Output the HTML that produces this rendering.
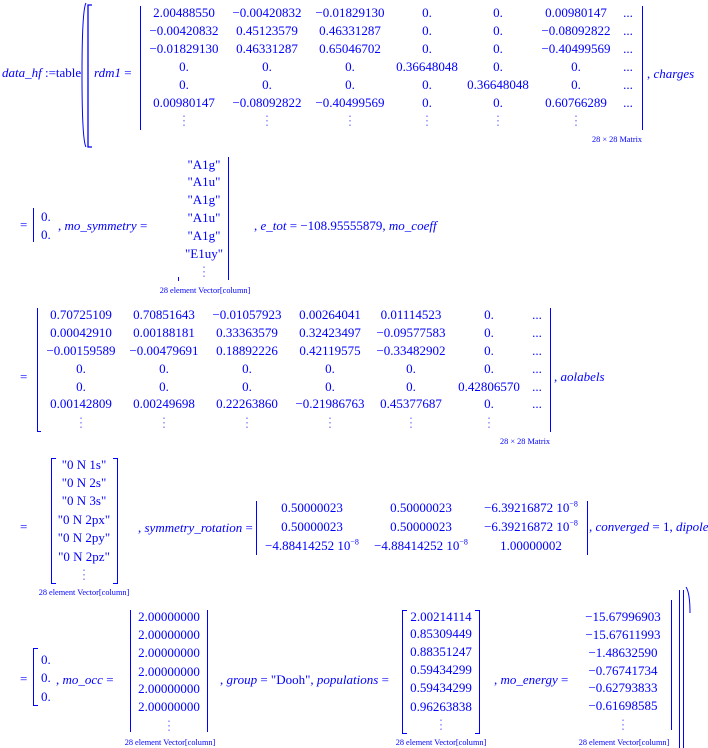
<!DOCTYPE html>
<html><head><meta charset="utf-8"><style>
html,body{margin:0;padding:0;background:#fff;}
body{width:708px;height:748px;position:relative;overflow:hidden;font-family:"Liberation Serif",serif;font-size:13px;color:#0000ff;}
.t{position:absolute;white-space:nowrap;line-height:16px;}
.c{transform:translateX(-50%);}
i{font-style:italic;}
.s{font-size:8.3px;line-height:10px;}
.d{color:#8080ff;}
.v{position:absolute;border-left:1.3px solid #0000ff;}
.bl{position:absolute;border:1.3px solid #0000ff;border-right:none;width:4px;}
.br{position:absolute;border:1.3px solid #0000ff;border-left:none;width:4px;}
sup{font-size:8px;line-height:0;}
</style></head><body>

<!-- Section 1 -->
<div class="t" style="left:2px;top:65px"><i>data_hf</i> :=table</div>
<svg style="position:absolute;left:78px;top:0" width="16" height="150"><path d="M8,3 Q4,10 4,75 Q4,140 8,147" fill="none" stroke="#0000ff" stroke-width="1"/><path d="M14,5 L10,5 L10,147 L14,147" fill="none" stroke="#0000ff" stroke-width="1.3"/></svg>
<div class="t" style="left:94px;top:65px"><i>rdm1</i> =</div>
<div class="v" style="left:140px;top:6px;height:124px"></div>
<div class="v" style="left:642px;top:6px;height:124px"></div>
<div class="t" style="left:647px;top:66px">, <i>charges</i></div>
<div class="t s c" style="left:617px;top:135px">28 × 28 Matrix</div>

<div class="t c" style="left:184px;top:5px">2.00488550</div><div class="t c" style="left:267px;top:5px">−0.00420832</div><div class="t c" style="left:350px;top:5px">−0.01829130</div><div class="t c" style="left:427px;top:5px">0.</div><div class="t c" style="left:498px;top:5px">0.</div><div class="t c" style="left:576px;top:5px">0.00980147</div><div class="t c" style="left:628px;top:5px">...</div>
<div class="t c" style="left:184px;top:23px">−0.00420832</div><div class="t c" style="left:267px;top:23px">0.45123579</div><div class="t c" style="left:350px;top:23px">0.46331287</div><div class="t c" style="left:427px;top:23px">0.</div><div class="t c" style="left:498px;top:23px">0.</div><div class="t c" style="left:576px;top:23px">−0.08092822</div><div class="t c" style="left:628px;top:23px">...</div>
<div class="t c" style="left:184px;top:41px">−0.01829130</div><div class="t c" style="left:267px;top:41px">0.46331287</div><div class="t c" style="left:350px;top:41px">0.65046702</div><div class="t c" style="left:427px;top:41px">0.</div><div class="t c" style="left:498px;top:41px">0.</div><div class="t c" style="left:576px;top:41px">−0.40499569</div><div class="t c" style="left:628px;top:41px">...</div>
<div class="t c" style="left:184px;top:59px">0.</div><div class="t c" style="left:267px;top:59px">0.</div><div class="t c" style="left:350px;top:59px">0.</div><div class="t c" style="left:427px;top:59px">0.36648048</div><div class="t c" style="left:498px;top:59px">0.</div><div class="t c" style="left:576px;top:59px">0.</div><div class="t c" style="left:628px;top:59px">...</div>
<div class="t c" style="left:184px;top:77px">0.</div><div class="t c" style="left:267px;top:77px">0.</div><div class="t c" style="left:350px;top:77px">0.</div><div class="t c" style="left:427px;top:77px">0.</div><div class="t c" style="left:498px;top:77px">0.36648048</div><div class="t c" style="left:576px;top:77px">0.</div><div class="t c" style="left:628px;top:77px">...</div>
<div class="t c" style="left:184px;top:95px">0.00980147</div><div class="t c" style="left:267px;top:95px">−0.08092822</div><div class="t c" style="left:350px;top:95px">−0.40499569</div><div class="t c" style="left:427px;top:95px">0.</div><div class="t c" style="left:498px;top:95px">0.</div><div class="t c" style="left:576px;top:95px">0.60766289</div><div class="t c" style="left:628px;top:95px">...</div>
<div class="t c d" style="left:184px;top:113px">⋮</div><div class="t c d" style="left:267px;top:113px">⋮</div><div class="t c d" style="left:350px;top:113px">⋮</div><div class="t c d" style="left:427px;top:113px">⋮</div><div class="t c d" style="left:498px;top:113px">⋮</div><div class="t c d" style="left:576px;top:113px">⋮</div>

<!-- Section 2 -->
<div class="t" style="left:20px;top:217px">=</div>
<div class="v" style="left:33px;top:208px;height:34px"></div>
<div class="t" style="left:41px;top:209px">0.</div>
<div class="t" style="left:41px;top:227px">0.</div>
<div class="t" style="left:58px;top:218px">, <i>mo_symmetry</i> =</div>
<div class="t c" style="left:204px;top:157px">"A1g"</div>
<div class="t c" style="left:204px;top:174px">"A1u"</div>
<div class="t c" style="left:204px;top:192px">"A1g"</div>
<div class="t c" style="left:204px;top:210px">"A1u"</div>
<div class="t c" style="left:204px;top:228px">"A1g"</div>
<div class="t c" style="left:204px;top:246px">"E1uy"</div>
<div class="t c d" style="left:204px;top:264px">⋮</div>
<div class="v" style="left:178px;top:277px;height:4px"></div>
<div class="v" style="left:228px;top:157px;height:123px"></div>
<div class="t s c" style="left:205px;top:286px">28 element Vector[column]</div>
<div class="t" style="left:254px;top:218px">, <i>e_tot</i> = −108.95555879, <i>mo_coeff</i></div>

<!-- Section 3 -->
<div class="t" style="left:20px;top:369px">=</div>
<div class="v" style="left:37px;top:308px;height:124px"></div>
<div class="v" style="left:37px;top:431px;width:3px;border-bottom:1.2px solid #0000ff;height:0"></div>
<div class="v" style="left:550px;top:308px;height:124px"></div>
<div class="t" style="left:554px;top:369px">, <i>aolabels</i></div>
<div class="t s c" style="left:525px;top:437px">28 × 28 Matrix</div>

<div class="t c" style="left:81px;top:307px">0.70725109</div><div class="t c" style="left:164px;top:307px">0.70851643</div><div class="t c" style="left:247px;top:307px">−0.01057923</div><div class="t c" style="left:330px;top:307px">0.00264041</div><div class="t c" style="left:411px;top:307px">0.01114523</div><div class="t c" style="left:489px;top:307px">0.</div><div class="t c" style="left:537px;top:307px">...</div>
<div class="t c" style="left:81px;top:325px">0.00042910</div><div class="t c" style="left:164px;top:325px">0.00188181</div><div class="t c" style="left:247px;top:325px">0.33363579</div><div class="t c" style="left:330px;top:325px">0.32423497</div><div class="t c" style="left:411px;top:325px">−0.09577583</div><div class="t c" style="left:489px;top:325px">0.</div><div class="t c" style="left:537px;top:325px">...</div>
<div class="t c" style="left:81px;top:343px">−0.00159589</div><div class="t c" style="left:164px;top:343px">−0.00479691</div><div class="t c" style="left:247px;top:343px">0.18892226</div><div class="t c" style="left:330px;top:343px">0.42119575</div><div class="t c" style="left:411px;top:343px">−0.33482902</div><div class="t c" style="left:489px;top:343px">0.</div><div class="t c" style="left:537px;top:343px">...</div>
<div class="t c" style="left:81px;top:361px">0.</div><div class="t c" style="left:164px;top:361px">0.</div><div class="t c" style="left:247px;top:361px">0.</div><div class="t c" style="left:330px;top:361px">0.</div><div class="t c" style="left:411px;top:361px">0.</div><div class="t c" style="left:489px;top:361px">0.</div><div class="t c" style="left:537px;top:361px">...</div>
<div class="t c" style="left:81px;top:379px">0.</div><div class="t c" style="left:164px;top:379px">0.</div><div class="t c" style="left:247px;top:379px">0.</div><div class="t c" style="left:330px;top:379px">0.</div><div class="t c" style="left:411px;top:379px">0.</div><div class="t c" style="left:489px;top:379px">0.42806570</div><div class="t c" style="left:537px;top:379px">...</div>
<div class="t c" style="left:81px;top:396px">0.00142809</div><div class="t c" style="left:164px;top:396px">0.00249698</div><div class="t c" style="left:247px;top:396px">0.22263860</div><div class="t c" style="left:330px;top:396px">−0.21986763</div><div class="t c" style="left:411px;top:396px">0.45377687</div><div class="t c" style="left:489px;top:396px">0.</div><div class="t c" style="left:537px;top:396px">...</div>
<div class="t c d" style="left:81px;top:415px">⋮</div><div class="t c d" style="left:164px;top:415px">⋮</div><div class="t c d" style="left:247px;top:415px">⋮</div><div class="t c d" style="left:330px;top:415px">⋮</div><div class="t c d" style="left:411px;top:415px">⋮</div><div class="t c d" style="left:489px;top:415px">⋮</div>

<!-- Section 4 -->
<div class="t" style="left:20px;top:519px">=</div>
<div class="bl" style="left:51px;top:458px;height:124px"></div>
<div class="br" style="left:113px;top:458px;height:124px"></div>
<div class="t c" style="left:84px;top:457px">"0 N 1s"</div>
<div class="t c" style="left:84px;top:475px">"0 N 2s"</div>
<div class="t c" style="left:84px;top:493px">"0 N 3s"</div>
<div class="t c" style="left:84px;top:512px">"0 N 2px"</div>
<div class="t c" style="left:84px;top:530px">"0 N 2py"</div>
<div class="t c" style="left:84px;top:549px">"0 N 2pz"</div>
<div class="t c d" style="left:84px;top:567px">⋮</div>
<div class="t s c" style="left:84px;top:588px">28 element Vector[column]</div>
<div class="t" style="left:138px;top:520px">, <i>symmetry_rotation</i> =</div>
<div class="v" style="left:256px;top:501px;height:54px"></div>
<div class="t c" style="left:312px;top:500px">0.50000023</div><div class="t c" style="left:421px;top:500px">0.50000023</div><div class="t c" style="left:531px;top:500px">−6.39216872 10<sup>−8</sup></div>
<div class="t c" style="left:312px;top:519px">0.50000023</div><div class="t c" style="left:421px;top:519px">0.50000023</div><div class="t c" style="left:531px;top:519px">−6.39216872 10<sup>−8</sup></div>
<div class="t c" style="left:312px;top:538px">−4.88414252 10<sup>−8</sup></div><div class="t c" style="left:421px;top:538px">−4.88414252 10<sup>−8</sup></div><div class="t c" style="left:531px;top:538px">1.00000002</div>
<div class="v" style="left:587px;top:501px;height:54px"></div>
<div class="t" style="left:589px;top:519px">, <i>converged</i> = 1, <i>dipole</i></div>

<!-- Section 5 -->
<div class="t" style="left:20px;top:671px">=</div>
<div class="bl" style="left:33px;top:648px;height:56px"></div>
<div class="t" style="left:41px;top:652px">0.</div>
<div class="t" style="left:41px;top:670px">0.</div>
<div class="t" style="left:41px;top:689px">0.</div>
<div class="t" style="left:56px;top:672px">, <i>mo_occ</i> =</div>
<div class="v" style="left:130px;top:610px;height:122px"></div>
<div class="v" style="left:207px;top:610px;height:122px"></div>
<div class="t c" style="left:169px;top:609px">2.00000000</div>
<div class="t c" style="left:169px;top:627px">2.00000000</div>
<div class="t c" style="left:169px;top:645px">2.00000000</div>
<div class="t c" style="left:169px;top:664px">2.00000000</div>
<div class="t c" style="left:169px;top:681px">2.00000000</div>
<div class="t c" style="left:169px;top:699px">2.00000000</div>
<div class="t c d" style="left:169px;top:718px">⋮</div>
<div class="t s c" style="left:170px;top:738px">28 element Vector[column]</div>
<div class="t" style="left:220px;top:672px">, <i>group</i> = "Dooh", <i>populations</i> =</div>
<div class="bl" style="left:402px;top:610px;height:122px"></div>
<div class="br" style="left:475px;top:610px;height:122px"></div>
<div class="t c" style="left:441px;top:609px">2.00214114</div>
<div class="t c" style="left:441px;top:626px">0.85309449</div>
<div class="t c" style="left:441px;top:644px">0.88351247</div>
<div class="t c" style="left:441px;top:662px">0.59434299</div>
<div class="t c" style="left:441px;top:680px">0.59434299</div>
<div class="t c" style="left:441px;top:699px">0.96263838</div>
<div class="t c d" style="left:441px;top:717px">⋮</div>
<div class="t s c" style="left:441px;top:738px">28 element Vector[column]</div>
<div class="t" style="left:494px;top:672px">, <i>mo_energy</i> =</div>
<div class="t c" style="left:623px;top:609px">−15.67996903</div>
<div class="t c" style="left:623px;top:627px">−15.67611993</div>
<div class="t c" style="left:623px;top:645px">−1.48632590</div>
<div class="t c" style="left:623px;top:663px">−0.76741734</div>
<div class="t c" style="left:623px;top:680px">−0.62793833</div>
<div class="t c" style="left:623px;top:698px">−0.61698585</div>
<div class="t c d" style="left:623px;top:717px">⋮</div>
<div class="t s c" style="left:624px;top:738px">28 element Vector[column]</div>
<div class="v" style="left:671px;top:600px;height:130px"></div>
<div class="v" style="left:679px;top:590px;height:158px"></div>
<div class="v" style="left:683px;top:590px;height:158px"></div>
<svg style="position:absolute;left:684px;top:585px" width="10" height="30"><path d="M2,2 Q6,8 6,28" fill="none" stroke="#0000ff" stroke-width="1"/></svg>
</body></html>
